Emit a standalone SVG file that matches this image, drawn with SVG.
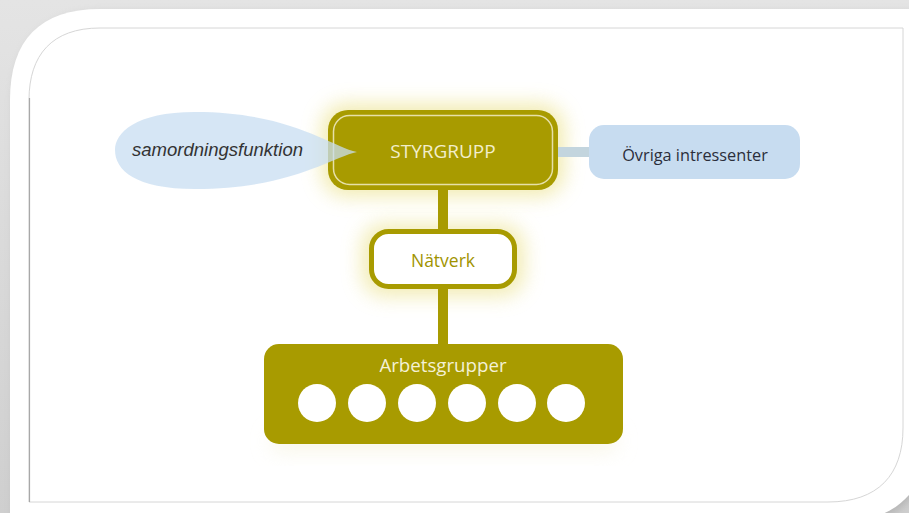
<svg xmlns="http://www.w3.org/2000/svg" width="909" height="513" viewBox="0 0 909 513">
  <defs>
    <filter id="glow" x="-40%" y="-60%" width="180%" height="220%">
      <feGaussianBlur stdDeviation="10"/>
    </filter>
    <filter id="frameShadow" x="-10%" y="-10%" width="120%" height="120%">
      <feGaussianBlur stdDeviation="4"/>
    </filter>
    <linearGradient id="topGrad" x1="0" y1="0" x2="0" y2="1">
      <stop offset="0" stop-color="#e4e4e4"/>
      <stop offset="1" stop-color="#cfcfcf"/>
    </linearGradient>
  </defs>
  <style>
    .olive { fill: #a89b00; }
    .lbl { font-family: "Open Sans", "Liberation Sans", sans-serif; text-anchor: middle; }
    .conn { fill: #a89b00; }
  </style>

  <!-- frame -->
  <rect x="0" y="0" width="909" height="513" fill="url(#topGrad)"/>
  <path d="M14,104 C14,44 44,13 104,13 L930,13 L930,440 C930,495 895,525 845,525 L14,525 Z" fill="#9a9a9a" opacity="0.5" filter="url(#frameShadow)"/>
  <path d="M10,100 C10,40 40,9 100,9 L930,9 L930,430 C930,490 895,522 840,522 L10,522 Z" fill="#ffffff"/>
  <path d="M29,100 C29,55 52,28 100,28 L903,28 L903,428 C903,475 878,502 828,502 L29,502 Z" fill="#ffffff" stroke="#d6d6d6" stroke-width="1"/>
  <line x1="29.5" y1="98" x2="29.5" y2="502" stroke="#a8a8a8" stroke-width="1.2"/>

  <!-- glows -->
  <rect x="322" y="104" width="242" height="92" rx="24" fill="#efe7a0" opacity="0.85" filter="url(#glow)"/>
  <rect x="362" y="224" width="162" height="72" rx="22" fill="#efe7a0" opacity="0.8" filter="url(#glow)"/>
  <rect x="270" y="430" width="348" height="22" rx="10" fill="#f3efd4" opacity="0.5" filter="url(#glow)"/>

  <!-- connectors -->
  <g id="connectors">
    <rect x="550" y="147" width="42" height="10" fill="#c3d5de"/>
    <rect class="conn" x="438" y="186" width="10" height="46"/>
    <rect class="conn" x="438" y="286" width="10" height="60"/>
  </g>

  <g id="node-ovriga">
    <rect x="589" y="125" width="211" height="54" rx="15" fill="#c7dcf0"/>
    <text class="lbl" x="695" y="161" font-size="16.3" fill="#2b2e3a">Övriga intressenter</text>
  </g>

  <g id="node-styrgrupp">
    <rect class="olive" x="328" y="110" width="230" height="80" rx="20"/>
    <rect x="333.5" y="115.5" width="219" height="69" rx="16" fill="none" stroke="#e6e0a8" stroke-width="1.5"/>
    <text class="lbl" x="443" y="158" font-size="19" fill="#f2eecb">STYRGRUPP</text>
  </g>

  <g id="node-samordning">
    <path d="M357,152 C330,146 290,112 195,112 C135,112 115,133 115,150 C115,170 135,189 195,189 C290,189 330,158 357,152 Z" fill="#c8ddf1" opacity="0.75"/>
    <text x="132" y="156" font-family="Liberation Sans, Arial, sans-serif" font-style="italic" font-size="18.5" fill="#333333" textLength="171" lengthAdjust="spacingAndGlyphs">samordningsfunktion</text>
  </g>

  <g id="node-natverk">
    <rect x="371.5" y="231.5" width="143" height="55" rx="17" fill="#ffffff" stroke="#a89b00" stroke-width="5"/>
    <text class="lbl" x="443" y="267" font-size="17.5" fill="#a09300">Nätverk</text>
  </g>

  <g id="node-arbetsgrupper">
    <rect class="olive" x="264" y="344" width="359" height="100" rx="15"/>
    <text class="lbl" x="443" y="372" font-size="18.7" fill="#f4f1d6">Arbetsgrupper</text>
    <g fill="#ffffff">
      <circle cx="317" cy="403" r="19"/>
      <circle cx="367" cy="403" r="19"/>
      <circle cx="417" cy="403" r="19"/>
      <circle cx="467" cy="403" r="19"/>
      <circle cx="517" cy="403" r="19"/>
      <circle cx="566" cy="403" r="19"/>
    </g>
  </g>
</svg>
